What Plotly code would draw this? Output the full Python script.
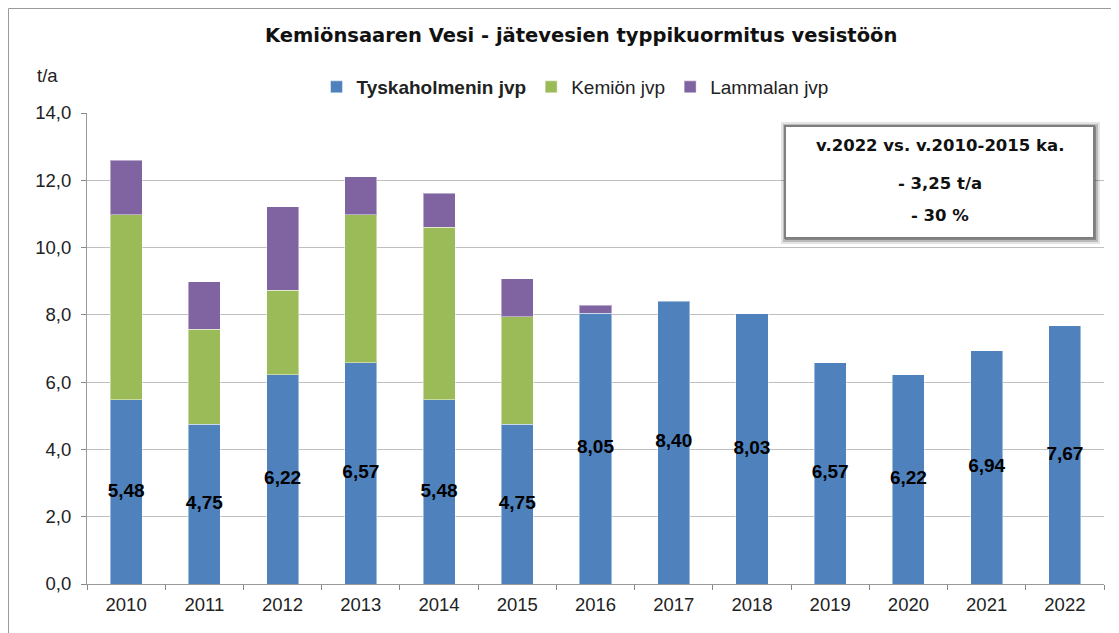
import plotly.graph_objects as go

years = ["2010", "2011", "2012", "2013", "2014", "2015", "2016",
         "2017", "2018", "2019", "2020", "2021", "2022"]
tyskaholmen = [5.48, 4.75, 6.22, 6.57, 5.48, 4.75, 8.05, 8.40, 8.03, 6.57, 6.22, 6.94, 7.67]
kemio = [5.49, 2.82, 2.51, 4.40, 5.13, 3.19, None, None, None, None, None, None, None]
lammala = [1.63, 1.42, 2.49, 1.13, 1.01, 1.13, 0.24, None, None, None, None, None, None]
labels = ["5,48", "4,75", "6,22", "6,57", "5,48", "4,75", "8,05",
          "8,40", "8,03", "6,57", "6,22", "6,94", "7,67"]
series_names = ["<b>Tyskaholmenin jvp</b>", "Kemiön jvp", "Lammalan jvp"]
colors = ["#4F81BD", "#9BBB59", "#8064A2"]
box_lines = ["v.2022 vs. v.2010-2015 ka.", "- 3,25 t/a", "- 30 %"]

FONT = "Liberation Sans, Arial, sans-serif"
WIDE = "DejaVu Sans, Verdana, sans-serif"

# page is offset by the default 8px body margin
OFF = 8
W, H = 1119 - OFF, 633 - OFF
L, R, T, B = 87, 1104, 113, 584  # plot area in screen pixels


def px2x(p):
    return (p - L) / (R - L)


def px2y(p):
    return (B - p) / (B - T)


fig = go.Figure()
for name, vals, col in zip(series_names, [tyskaholmen, kemio, lammala], colors):
    fig.add_trace(go.Bar(
        x=years, y=vals, name=name, marker_color=col,
        marker_line=dict(color="rgba(255,255,255,0.45)", width=1),
    ))

fig.add_trace(go.Scatter(
    x=years, y=[v / 2 for v in tyskaholmen], mode="text", text=labels,
    textfont=dict(family=FONT, size=19, color="black", weight="bold"),
    showlegend=False, hoverinfo="skip",
))

fig.update_layout(
    barmode="stack",
    bargap=0.59,
    width=W, height=H,
    margin=dict(l=L - OFF, r=W - (R - OFF), t=T - OFF, b=H - (B - OFF), autoexpand=False),
    paper_bgcolor="white", plot_bgcolor="white",
    separators=",.",
    font=dict(family=FONT, size=18, color="#222"),
    legend=dict(orientation="h", x=px2x(575), xanchor="center", y=px2y(87), yanchor="middle",
                font=dict(family=FONT, size=19, color="#222"),
                itemwidth=30, traceorder="normal", bgcolor="rgba(0,0,0,0)"),
    showlegend=True,
)

fig.update_xaxes(
    type="category", range=[-0.5, 12.5], tickson="boundaries", ticks="outside", ticklen=5,
    tickcolor="#888", showline=True, linecolor="#999", linewidth=1,
    showgrid=False, tickfont=dict(family=FONT, size=18.5, color="#222"),
    ticklabelstandoff=4,
)
fig.update_yaxes(
    range=[0, 14], dtick=2, tickformat=".1f", ticks="outside", ticklen=5,
    tickcolor="#888", showline=True, linecolor="#999", linewidth=1,
    showgrid=True, gridcolor="#BFBFBF", gridwidth=1, zeroline=False,
    tickfont=dict(family=FONT, size=18.5, color="#222"),
    ticklabelstandoff=6,
)

# outer chart frame
fig.add_shape(type="rect", xref="paper", yref="paper",
              x0=px2x(8.5), x1=1.05, y0=-0.3, y1=px2y(8.5),
              line=dict(color="#9a9a9a", width=1), fillcolor="rgba(0,0,0,0)", layer="below")

# text box with soft shadow
for off, col in [(6, "rgba(0,0,0,0.10)"), (4, "rgba(0,0,0,0.18)"), (2, "rgba(0,0,0,0.28)")]:
    fig.add_shape(type="rect", xref="paper", yref="paper",
                  x0=px2x(785 - off + 2), x1=px2x(1094 + off), y0=px2y(238 + off), y1=px2y(126 - off + 2),
                  line=dict(width=0), fillcolor=col, layer="above")
fig.add_shape(type="rect", xref="paper", yref="paper",
              x0=px2x(785), x1=px2x(1094), y0=px2y(238), y1=px2y(126),
              line=dict(color="#7f7f7f", width=2), fillcolor="white", layer="above")

for txt, py in zip(box_lines, [145, 183, 216]):
    fig.add_annotation(x=px2x(940), y=px2y(py), xref="paper", yref="paper", text="<b>" + txt + "</b>",
                       xanchor="center", yanchor="middle",
                       showarrow=False, font=dict(family=WIDE, size=16.5, color="#111"))

fig.add_annotation(x=px2x(581), y=px2y(35), xref="paper", yref="paper",
                   text="<b>Kemiönsaaren Vesi - jätevesien typpikuormitus vesistöön</b>",
                   xanchor="center", yanchor="middle",
                   showarrow=False, font=dict(family=WIDE, size=19.5, color="#111"))
fig.add_annotation(x=px2x(47), y=px2y(75), xref="paper", yref="paper", text="t/a",
                   xanchor="center", yanchor="middle",
                   showarrow=False, font=dict(family=FONT, size=18.5, color="#222"))

fig.write_html("out.html")
